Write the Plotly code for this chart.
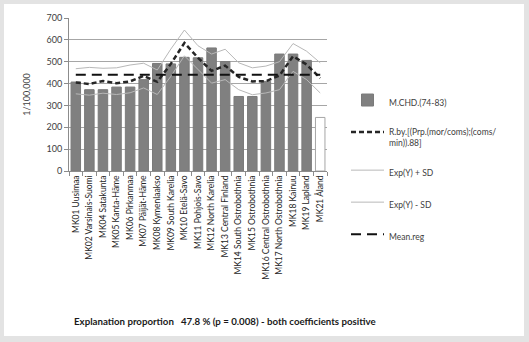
import plotly.graph_objects as go

categories = ["MK01 Uusimaa", "MK02 Varsinais-Suomi", "MK04 Satakunta", "MK05 Kanta-Häme",
              "MK06 Pirkanmaa", "MK07 Päijät-Häme", "MK08 Kymenlaakso", "MK09 South Karelia",
              "MK10 Etelä-Savo", "MK11 Pohjois-Savo", "MK12 North Karelia", "MK13 Central Finland",
              "MK14 South Ostrobothnia", "MK15 Ostrobothnia", "MK16 Central Ostrobothnia",
              "MK17 North Ostrobothnia", "MK18 Kainuu", "MK19 Lapland", "MK21 Åland"]
mchd = [407, 372, 372, 384, 384, 418, 492, 490, 520, 518, 563, 501, 341, 341, 410, 535, 535, 506, 245]
rby = [405, 398, 412, 402, 410, 435, 408, 490, 586, 518, 458, 482, 430, 410, 411, 437, 525, 487, 425]
exp_plus = [468, 474, 470, 472, 485, 493, 462, 558, 645, 573, 535, 557, 495, 472, 480, 500, 583, 548, 495]
exp_minus = [353, 347, 356, 350, 358, 380, 350, 433, 527, 463, 402, 418, 372, 349, 357, 372, 456, 418, 357]
mean_reg = [440] * len(categories)
y_ticks = [0, 100, 200, 300, 400, 500, 600, 700]

FONT = "Lato"
TXT = "#404040"

bar_fill = ["#808080"] * (len(categories) - 1) + ["#ffffff"]
bar_line = ["#7a7a7a"] * (len(categories) - 1) + ["#a6a6a6"]

fig = go.Figure()
fig.add_trace(go.Bar(x=categories, y=mchd, name="M.CHD.(74-83)",
                     marker=dict(color=bar_fill, line=dict(color=bar_line, width=1)),
                     legendgroup="a"))
fig.add_trace(go.Scatter(x=categories, y=rby, mode="lines",
                         name="R.by.[(Prp.(mor/coms);(coms/<br>min)).88]",
                         line=dict(color="#262626", width=2.5, dash="5px,3px"),
                         legendgroup="b"))
fig.add_trace(go.Scatter(x=categories, y=exp_plus, mode="lines", name="Exp(Y) + SD",
                         line=dict(color="#b8b8b8", width=1), legendgroup="c"))
fig.add_trace(go.Scatter(x=categories, y=exp_minus, mode="lines", name="Exp(Y) - SD",
                         line=dict(color="#b8b8b8", width=1), legendgroup="d"))
fig.add_trace(go.Scatter(x=categories, y=mean_reg, mode="lines", name="Mean.reg",
                         line=dict(color="#111111", width=2, dash="10px,6px"),
                         legendgroup="e"))

L, R, T, B = 69, 202, 18, 171
W, H = 529, 342
pw, ph = W - L - R, H - T - B

def px_x(x):
    return (x - L) / pw

def px_y(y):
    return (H - B - y) / ph

fig.add_shape(type="rect", xref="paper", yref="paper",
              x0=px_x(4), x1=px_x(524), y0=px_y(336), y1=px_y(4),
              fillcolor="white", line=dict(width=0), layer="below")

fig.add_annotation(text="Explanation proportion   47.8 % (p = 0.008) - both coefficients positive",
                   xref="paper", yref="paper", x=px_x(72), y=px_y(321),
                   xanchor="left", yanchor="middle", showarrow=False,
                   font=dict(family=FONT, size=9.7, color="#1a1a1a", weight="bold"))

fig.update_layout(
    width=W, height=H,
    margin=dict(l=L, r=R, t=T, b=B),
    paper_bgcolor="#e3e3e3",
    plot_bgcolor="rgba(0,0,0,0)",
    font=dict(family=FONT, size=9, color=TXT),
    bargap=0.3,
    showlegend=True,
    legend=dict(x=px_x(346), y=px_y(88), xanchor="left", yanchor="top",
                bgcolor="rgba(0,0,0,0)", itemwidth=33, tracegroupgap=13,
                traceorder="grouped", valign="top", maxheight=240,
                font=dict(family=FONT, size=8.5, color=TXT)),
    xaxis=dict(type="category", showgrid=False, showline=True, linecolor="#8c8c8c",
               linewidth=1, ticks="outside", tickson="boundaries", ticklen=4,
               tickcolor="#8c8c8c", tickangle=-90, tickfont=dict(size=8.5, color="#262626")),
    yaxis=dict(range=[0, 700], tickvals=y_ticks, showgrid=True, gridcolor="#a6a6a6",
               gridwidth=1, showline=True, linecolor="#8c8c8c", ticks="outside",
               ticklen=4, tickcolor="#8c8c8c", zeroline=False,
               tickfont=dict(size=9, color=TXT),
               title=dict(text="1/100,000", standoff=14, font=dict(size=9, color=TXT))),
)

fig.write_html("out.html")
